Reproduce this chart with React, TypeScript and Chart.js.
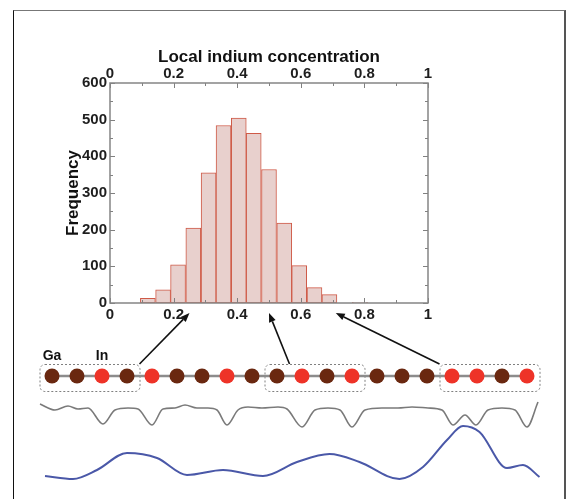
import React, { useEffect, useRef } from 'react';
import { Chart, registerables } from 'chart.js';

Chart.register(...registerables);
Chart.defaults.font.family = "'Liberation Sans', Arial, Helvetica, sans-serif";

// ---- Histogram data (bin width 1/21) ----
const binCenters = [0.119, 0.167, 0.214, 0.262, 0.31, 0.357, 0.405, 0.452, 0.5, 0.548, 0.595, 0.643, 0.69, 0.738, 0.786];
const frequency = [13, 36, 104, 204, 355, 484, 504, 463, 364, 218, 102, 42, 23, 0, 2];
const xTickLabels = ['0', '0.2', '0.4', '0.6', '0.8', '1'];
const yTickLabels = ['0', '100', '200', '300', '400', '500', '600'];

// ---- Atom chain ----
const atomSpecies = ['Ga', 'Ga', 'In', 'Ga', 'In', 'Ga', 'Ga', 'In', 'Ga', 'Ga', 'In', 'Ga', 'In', 'Ga', 'Ga', 'Ga', 'In', 'In', 'Ga', 'In'];
const boxStart = [0, 9, 16];
const boxEnd = [3, 12, 19];
const arrowTail = [3.5, 9.5, 15.5];
const arrowTarget = [0.25, 0.5, 0.71];

// ---- Gray (local potential) curve ----
const grayX = [-0.48, 0.12, 0.64, 1.04, 1.44, 2.04, 2.52, 3.04, 3.44, 4.0, 4.44, 4.92, 5.32, 5.8, 6.24, 6.6, 7.0, 7.44, 7.84, 8.4, 9.04, 9.4, 10.0, 10.52, 11.04, 11.52, 12.0, 12.52, 13.2, 13.84, 14.4, 15.04, 15.6, 16.04, 16.52, 16.96, 17.44, 18.0, 18.52, 19.0, 19.44];
const grayY = [21, 15, 19, 16, 17, 1, 15, 17, 16, 0, 16, 17, 20, 17, 17, 15, 0, 15, 18, 17, 18, 16, -2, 15, 17, 15, -2, 15, 17, 17, 18, 17, 15, 0, 10, 0, 15, 17, 15, -2, 23];

// ---- Blue (smoothed) curve ----
const blueX = [-0.28, 0.84, 1.8, 3.0, 4.2, 5.4, 6.84, 8.44, 9.8, 11.1, 12.3, 13.9, 14.84, 15.8, 16.44, 17.1, 18.2, 18.84, 19.5];
const blueY = [4, 1, 10, 27, 22, 5, 10, 4, 18, 26, 18, 1, 13, 40, 54, 48, 12, 15, 3];

const speciesColor: Record<string, string> = { Ga: '#6a2810', In: '#ee3328' };

export default function App() {
  const histRef = useRef<HTMLCanvasElement | null>(null);
  const lowRef = useRef<HTMLCanvasElement | null>(null);

  useEffect(() => {
    if (!histRef.current || !lowRef.current) return;

    const frameTicks = {
      id: 'frameTicks',
      afterDatasetsDraw(chart: any) {
        const { ctx, chartArea: a, scales } = chart;
        const x = scales.x;
        const y = scales.y;
        ctx.save();
        ctx.strokeStyle = '#808080';
        ctx.lineWidth = 1;
        ctx.beginPath();
        for (let i = 0; i <= 10; i++) {
          const px = Math.round(x.getPixelForValue(i / 10)) + 0.5;
          const len = i % 2 === 0 ? 5 : 3;
          ctx.moveTo(px, a.bottom);
          ctx.lineTo(px, a.bottom - len);
          ctx.moveTo(px, a.top);
          ctx.lineTo(px, a.top + len);
        }
        for (let v = 0; v <= 600; v += 50) {
          const py = Math.round(y.getPixelForValue(v)) + 0.5;
          const len = v % 100 === 0 ? 5 : 3;
          ctx.moveTo(a.left, py);
          ctx.lineTo(a.left + len, py);
          ctx.moveTo(a.right, py);
          ctx.lineTo(a.right - len, py);
        }
        ctx.stroke();
        ctx.lineWidth = 1.5;
        ctx.strokeStyle = '#858585';
        ctx.strokeRect(a.left, a.top, a.right - a.left, a.bottom - a.top);
        ctx.restore();
      },
    };

    const tickFont = { size: 15, weight: 'bold' as const };

    const hist = new Chart(histRef.current, {
      type: 'bar',
      data: {
        datasets: [
          {
            data: binCenters.map((c, i) => ({ x: c, y: frequency[i] })),
            backgroundColor: '#e8d0cd',
            borderColor: '#cf5a47',
            borderWidth: 1,
            borderSkipped: false,
            barPercentage: 1,
            categoryPercentage: 1,
          } as any,
        ],
      },
      options: {
        responsive: false,
        animation: false,
        layout: { padding: { left: 0, right: 143, top: 0, bottom: 0 } },
        plugins: { legend: { display: false }, tooltip: { enabled: false } },
        scales: {
          x: {
            type: 'linear',
            position: 'bottom',
            min: 0,
            max: 1,
            offset: false,
            grid: { display: false, drawTicks: false, offset: false },
            border: { display: false },
            ticks: { stepSize: 0.2, padding: 3, color: '#1e1e1e', font: tickFont, maxRotation: 0, autoSkip: false, callback: (_v: any, i: number) => xTickLabels[i] },
            afterFit: (s: any) => { s.height = 37; },
          },
          x2: {
            type: 'linear',
            axis: 'x',
            position: 'top',
            min: 0,
            max: 1,
            offset: false,
            grid: { display: false, drawTicks: false, offset: false },
            border: { display: false },
            ticks: { stepSize: 0.2, padding: 0, color: '#1e1e1e', font: tickFont, maxRotation: 0, autoSkip: false, callback: (_v: any, i: number) => xTickLabels[i] },
            title: { display: true, text: 'Local indium concentration', color: '#111', font: { size: 17, weight: 'bold' }, padding: { top: 47, bottom: 0 } },
            afterFit: (s: any) => { s.height = 83; },
          },
          y: {
            type: 'linear',
            position: 'left',
            min: 0,
            max: 600,
            grid: { display: false, drawTicks: false },
            border: { display: false },
            ticks: { stepSize: 100, padding: 3, color: '#1e1e1e', font: tickFont, callback: (_v: any, i: number) => yTickLabels[i] },
            title: { display: true, text: 'Frequency', color: '#111', font: { size: 17, weight: 'bold' }, padding: { top: 63, bottom: 0 } },
            afterFit: (s: any) => { s.width = 110; },
          },
        } as any,
      },
      plugins: [frameTicks],
    });

    const chainDecor = {
      id: 'chainDecor',
      beforeDatasetsDraw(chart: any) {
        const { ctx, scales } = chart;
        const x = scales.x;
        const yA = scales.yA;
        ctx.save();
        ctx.strokeStyle = '#808080';
        ctx.lineWidth = 1;
        ctx.setLineDash([2, 2]);
        for (let b = 0; b < boxStart.length; b++) {
          const l = x.getPixelForValue(boxStart[b] - 0.5);
          const r = x.getPixelForValue(boxEnd[b] + 0.5);
          const t = yA.getPixelForValue(12);
          const bt = yA.getPixelForValue(-15);
          ctx.beginPath();
          (ctx as any).roundRect(l + 0.5, t + 0.5, r - l, bt - t, 5);
          ctx.stroke();
        }
        ctx.restore();
      },
      afterDatasetsDraw(chart: any) {
        const { ctx, scales } = chart;
        const x = scales.x;
        const yA = scales.yA;
        ctx.save();
        ctx.fillStyle = '#111';
        ctx.font = "bold 14px 'Liberation Sans', Arial, sans-serif";
        ctx.textAlign = 'center';
        ctx.textBaseline = 'middle';
        const labelY = yA.getPixelForValue(20);
        ctx.fillText('Ga', x.getPixelForValue(atomSpecies.indexOf('Ga')), labelY);
        ctx.fillText('In', x.getPixelForValue(atomSpecies.indexOf('In')), labelY);

        const hx = hist.scales.x;
        ctx.strokeStyle = '#111';
        ctx.fillStyle = '#111';
        ctx.lineWidth = 1.6;
        for (let k = 0; k < arrowTail.length; k++) {
          const x0 = x.getPixelForValue(arrowTail[k]);
          const y0 = yA.getPixelForValue(12);
          const x1 = hx.getPixelForValue(arrowTarget[k]);
          const y1 = hx.top + 10;
          const ang = Math.atan2(y1 - y0, x1 - x0);
          const hl = 9;
          const hw = 3.5;
          const bx = x1 - hl * Math.cos(ang);
          const by = y1 - hl * Math.sin(ang);
          ctx.beginPath();
          ctx.moveTo(x0, y0);
          ctx.lineTo(bx, by);
          ctx.stroke();
          ctx.beginPath();
          ctx.moveTo(x1, y1);
          ctx.lineTo(bx + hw * Math.sin(ang), by - hw * Math.cos(ang));
          ctx.lineTo(bx - hw * Math.sin(ang), by + hw * Math.cos(ang));
          ctx.closePath();
          ctx.fill();
        }
        ctx.restore();
      },
    };

    const low = new Chart(lowRef.current, {
      type: 'scatter',
      data: {
        datasets: [
          {
            data: grayX.map((v, i) => ({ x: v, y: grayY[i] })),
            yAxisID: 'yG',
            showLine: true,
            borderColor: '#7a7a7a',
            borderWidth: 1.6,
            pointRadius: 0,
            cubicInterpolationMode: 'monotone',
            clip: false,
          } as any,
          {
            data: blueX.map((v, i) => ({ x: v, y: blueY[i] })),
            yAxisID: 'yB',
            showLine: true,
            borderColor: '#4a58a8',
            borderWidth: 2,
            pointRadius: 0,
            cubicInterpolationMode: 'monotone',
            clip: false,
          } as any,
          {
            data: atomSpecies.map((_s, i) => ({ x: i, y: 0 })),
            yAxisID: 'yA',
            showLine: true,
            borderColor: '#8c8c8c',
            borderWidth: 2.5,
            pointRadius: 7.5,
            pointHoverRadius: 7.5,
            pointBorderWidth: 0,
            pointBackgroundColor: atomSpecies.map((s) => speciesColor[s]),
            clip: false,
          } as any,
        ],
      },
      options: {
        responsive: false,
        animation: false,
        layout: { padding: { left: 39.5, right: 31.5, top: 340, bottom: 19 } },
        plugins: { legend: { display: false }, tooltip: { enabled: false } },
        scales: {
          x: { type: 'linear', min: -0.5, max: 19.5, display: false },
          yA: { type: 'linear', axis: 'y', min: -104, max: 36, display: false },
          yG: { type: 'linear', axis: 'y', min: -55, max: 85, display: false },
          yB: { type: 'linear', axis: 'y', min: 0, max: 140, display: false },
        } as any,
      },
      plugins: [chainDecor],
    });

    return () => {
      low.destroy();
      hist.destroy();
    };
  }, []);

  return (
    <div style={{ position: 'fixed', left: 0, top: 0, width: 571, height: 499, overflow: 'hidden', background: '#fff' }}>
      <div
        style={{
          position: 'absolute',
          left: 13,
          top: 10,
          width: 553,
          height: 600,
          boxSizing: 'border-box',
          borderLeft: '1px solid #111',
          borderTop: '1px solid #777',
          borderRight: '2px solid #555',
        }}
      />
      <canvas ref={lowRef} width={571} height={499} style={{ position: 'absolute', left: 0, top: 0 }} />
      <canvas ref={histRef} width={571} height={340} style={{ position: 'absolute', left: 0, top: 0 }} />
    </div>
  );
}
